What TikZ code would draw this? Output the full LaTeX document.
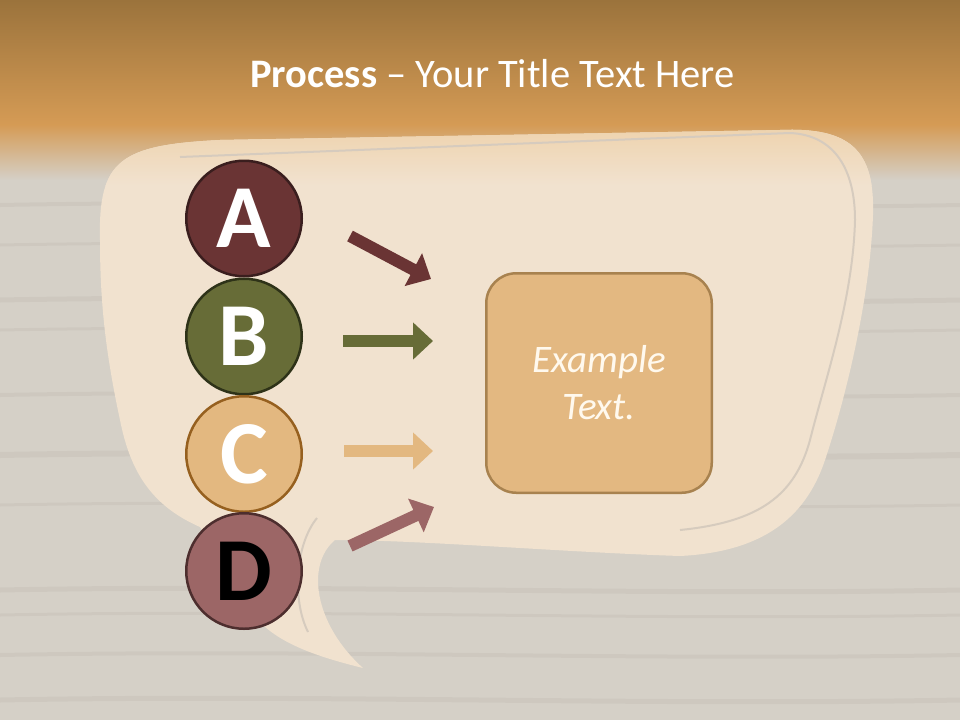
\documentclass[tikz,border=0pt]{standalone}
\usepackage{fontspec}
\setmainfont{Carlito}
\usepackage{tikz}
\usetikzlibrary{arrows.meta}

\definecolor{bandtop}{RGB}{155,115,60}
\definecolor{bandlow}{RGB}{213,155,85}
\definecolor{wood}{RGB}{213,208,199}
\definecolor{grain}{RGB}{190,184,175}
\definecolor{paper}{RGB}{241,226,207}
\definecolor{papertop}{RGB}{238,210,172}
\definecolor{crease}{RGB}{214,203,190}
\definecolor{redA}{RGB}{106,52,52}
\definecolor{redAline}{RGB}{58,30,30}
\definecolor{oliveB}{RGB}{103,108,55}
\definecolor{oliveBline}{RGB}{46,50,24}
\definecolor{sandC}{RGB}{227,184,128}
\definecolor{sandCline}{RGB}{150,96,31}
\definecolor{roseD}{RGB}{156,102,102}
\definecolor{roseDline}{RGB}{77,46,46}
\definecolor{boxfill}{RGB}{227,184,129}
\definecolor{boxline}{RGB}{168,130,79}
\definecolor{boxtext}{RGB}{255,249,238}

\newcommand\bubbleoutline{(100,-240)
  .. controls (98,-160) and (120,-145) .. (220,-140)
  -- (780,-130)
  .. controls (850,-127) and (875,-150) .. (873,-215)
  .. controls (870,-300) and (845,-400) .. (825,-460)
  .. controls (805,-520) and (760,-552) .. (680,-556)
  .. controls (560,-552) and (420,-540) .. (335,-540)
  .. controls (305,-565) and (315,-625) .. (363,-668)
  .. controls (310,-655) and (270,-640) .. (250,-610)
  -- (200,-527)
  .. controls (150,-505) and (130,-470) .. (120,-420)
  .. controls (105,-350) and (100,-300) .. (100,-240) -- cycle}

\begin{document}
\begin{tikzpicture}[x=1pt,y=1pt,
  letter/.style={circle,minimum size=115.5pt,line width=2.5pt,
    font=\fontsize{90}{90}\selectfont\bfseries,text=white},
  pointer/.style={line width=12pt,-{Triangle[width=36pt,length=20pt]}},
  example/.style={rounded corners=30pt,minimum width=225.5pt,minimum height=219.5pt,
    line width=2.5pt,fill=boxfill,draw=boxline,text=boxtext,align=center,
    font=\fontsize{39}{47}\selectfont\itshape}]
\tikzstyle{every node}+=[inner sep=0pt]
\useasboundingbox (0,0) rectangle (960,-720);
% wood table
\fill [wood] (0,0) rectangle (960,-720);
\foreach \y/\w in {205/4,245/3,300/5,330/3,395/4,455/6,505/3,590/5,615/3,655/4,700/5}
  \draw [grain,opacity=0.3,line width=\w pt] (0,-\y) .. controls (320,-\y+6) and (640,-\y-6) .. (960,-\y);
% title band
\shade [top color=bandtop,bottom color=bandlow] (0,0) rectangle (960,-125);
\shade [top color=bandlow,bottom color=wood] (0,-124.5) rectangle (960,-180);
% speech bubble
\fill [paper] \bubbleoutline;
\begin{scope}
  \clip \bubbleoutline;
  \shade [top color=papertop,bottom color=paper] (0,-124) rectangle (960,-185);
\end{scope}
\draw [crease,line width=2pt] (180,-157) -- (790,-133)
  .. controls (835,-135) and (855,-170) .. (855,-220)
  .. controls (853,-300) and (825,-380) .. (810,-440)
  .. controls (795,-495) and (760,-522) .. (680,-530);
\draw [crease,line width=2pt] (317,-518) .. controls (295,-545) and (292,-600) .. (308,-632);
\node [anchor=base,text=white,font=\fontsize{40.5}{40.5}\selectfont] (title) at (492.5,-87)
  {\textbf{Process} – Your Title Text Here};
% letters
\node [letter,fill=redA,draw=redAline] (A) at (244,-218.5) {A};
\node [letter,fill=oliveB,draw=oliveBline] (B) at (244,-336.5) {B};
\node [letter,fill=sandC,draw=sandCline] (C) at (244,-454) {C};
\node [letter,fill=roseD,draw=roseDline,text=black] (D) at (244,-571) {D};
% target
\node [example] (T) at (599,-383) {Example\\Text.};
% pointers
\coordinate (a0) at (350,-236);
\coordinate (a1) at (431,-279);
\coordinate (b0) at (343,-341);
\coordinate (b1) at (433,-341);
\coordinate (c0) at (344,-451);
\coordinate (c1) at (433,-451);
\coordinate (d0) at (350,-546);
\coordinate (d1) at (434,-507);
\draw [pointer,redA] (a0) -- (a1);
\draw [pointer,oliveB] (b0) -- (b1);
\draw [pointer,sandC] (c0) -- (c1);
\draw [pointer,roseD] (d0) -- (d1);
\end{tikzpicture}
\end{document}
